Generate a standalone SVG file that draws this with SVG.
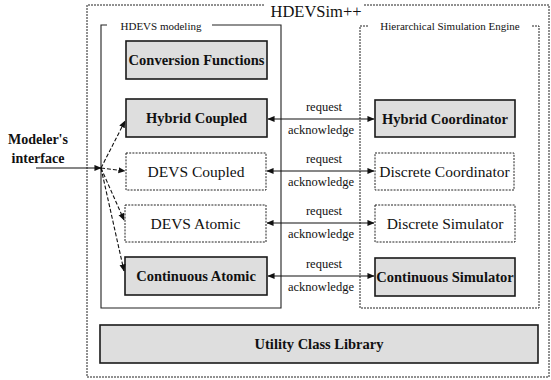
<svg xmlns="http://www.w3.org/2000/svg" width="551" height="380" viewBox="0 0 551 380">
<style>
text{font-family:"Liberation Serif","Times New Roman",serif;fill:#111}
.frame{fill:none;stroke:#222;stroke-width:1;stroke-dasharray:2 1}
.gray rect{fill:#dedede;stroke:#1a1a1a;stroke-width:1.6}
.white rect{fill:#fff;stroke:#222;stroke-width:1;stroke-dasharray:2 1.2}
.gray text{font-size:14.5px;font-weight:bold;text-anchor:middle}
.white text{font-size:15.5px;text-anchor:middle}
.lbl{font-size:12.5px;text-anchor:middle}
.conn line{stroke:#111;stroke-width:1.2}
.fan{stroke:#111;stroke-width:1.1;stroke-dasharray:4 2;fill:none}
</style>
<defs>
<marker id="ar" viewBox="0 0 8 8" refX="7.5" refY="4" markerWidth="7" markerHeight="7" orient="auto-start-reverse" markerUnits="userSpaceOnUse">
<path d="M0,0.5 L8,4 L0,7.5 Z" fill="#111"/>
</marker>
</defs>

<g id="outer-frame">
<path class="frame" d="M264,5 L87,5 L87,377 L549,377 L549,5 L363,5"/>
<text x="316" y="17" font-size="16.5" text-anchor="middle">HDEVSim++</text>
</g>

<g id="hdevs-modeling">
<path d="M107,25 L101,25 L101,308 L281,308 L281,25 L212,25" fill="none" stroke="#222" stroke-width="1.1"/>
<text x="161" y="30" font-size="11" text-anchor="middle">HDEVS modeling</text>
</g>

<g id="sim-engine">
<path class="frame" d="M368,26 L360,26 L360,308 L539,308 L539,26 L532,26"/>
<text x="450" y="30" font-size="11" text-anchor="middle">Hierarchical Simulation Engine</text>
</g>

<g id="conversion-functions" class="gray">
<rect x="126" y="41" width="141" height="38"/>
<text x="196.5" y="65">Conversion Functions</text>
</g>
<g id="hybrid-coupled" class="gray">
<rect x="126" y="99" width="141" height="38"/>
<text x="196.5" y="123">Hybrid Coupled</text>
</g>
<g id="devs-coupled" class="white">
<rect x="126" y="153" width="140" height="37"/>
<text x="196" y="177">DEVS Coupled</text>
</g>
<g id="devs-atomic" class="white">
<rect x="125" y="205" width="141" height="37"/>
<text x="195.5" y="229">DEVS Atomic</text>
</g>
<g id="continuous-atomic" class="gray">
<rect x="125" y="257" width="142" height="38"/>
<text x="196" y="281">Continuous Atomic</text>
</g>

<g id="hybrid-coordinator" class="gray">
<rect x="375" y="100" width="140" height="37"/>
<text x="445" y="124">Hybrid Coordinator</text>
</g>
<g id="discrete-coordinator" class="white">
<rect x="375" y="153" width="139" height="37"/>
<text x="444.5" y="177">Discrete Coordinator</text>
</g>
<g id="discrete-simulator" class="white">
<rect x="375" y="205" width="140" height="37"/>
<text x="445" y="229">Discrete Simulator</text>
</g>
<g id="continuous-simulator" class="gray">
<rect x="375" y="258" width="140" height="38"/>
<text x="445" y="282">Continuous Simulator</text>
</g>

<g id="utility-class-library" class="gray">
<rect x="100" y="325" width="438" height="38"/>
<text x="319" y="349">Utility Class Library</text>
</g>

<g id="modelers-interface">
<text x="38" y="144" font-size="14" font-weight="bold" text-anchor="middle">Modeler's</text>
<text x="38" y="163" font-size="14" font-weight="bold" text-anchor="middle">interface</text>
</g>

<g id="connectors" class="conn">
<line x1="36" y1="168" x2="101" y2="168" marker-end="url(#ar)"/>
<path class="fan" d="M101,168 L125,121" marker-end="url(#ar)"/>
<path class="fan" d="M101,168 L125,171" marker-end="url(#ar)" stroke-dasharray="1.5 1.5"/>
<path class="fan" d="M101,168 L124,220" marker-end="url(#ar)"/>
<path class="fan" d="M101,168 L124,271" marker-end="url(#ar)"/>

<line x1="268" y1="119" x2="374" y2="119" marker-start="url(#ar)" marker-end="url(#ar)"/>
<line x1="267" y1="171" x2="374" y2="171" marker-start="url(#ar)" marker-end="url(#ar)"/>
<line x1="267" y1="223" x2="374" y2="223" marker-start="url(#ar)" marker-end="url(#ar)"/>
<line x1="268" y1="276" x2="374" y2="276" marker-start="url(#ar)" marker-end="url(#ar)"/>

<text class="lbl" x="324" y="111">request</text>
<text class="lbl" x="321" y="134">acknowledge</text>
<text class="lbl" x="324" y="163">request</text>
<text class="lbl" x="321" y="186">acknowledge</text>
<text class="lbl" x="324" y="215">request</text>
<text class="lbl" x="321" y="238">acknowledge</text>
<text class="lbl" x="324" y="268">request</text>
<text class="lbl" x="321" y="291">acknowledge</text>
</g>
</svg>
